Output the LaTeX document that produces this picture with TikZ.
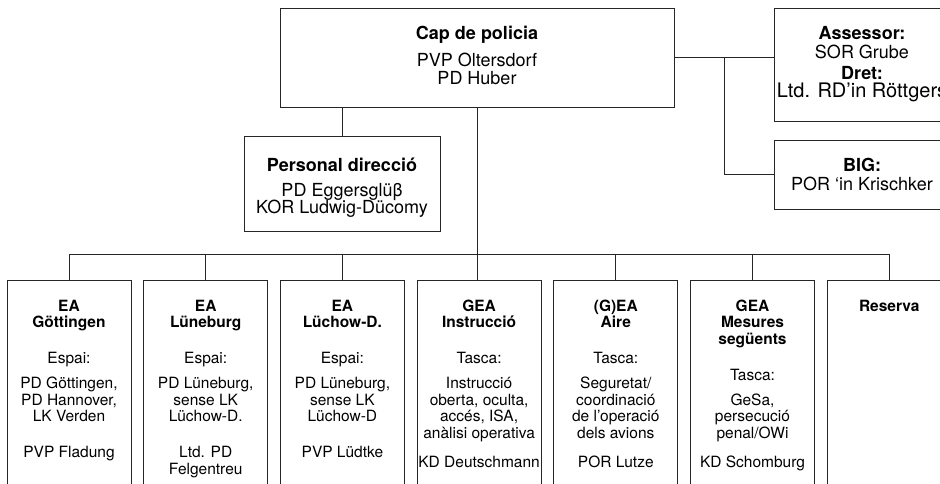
\documentclass[tikz,border=0pt]{standalone}
\usepackage{fontspec}
\setmainfont{TeX Gyre Heros}
\usetikzlibrary{calc,positioning}

\tikzset{
  orgbox/.style={draw=black!85, inner sep=0pt},
  uptxt/.style={font=\fontsize{18}{17.6}\selectfont, align=center},
  eabox/.style={orgbox, minimum width=124pt, minimum height=220pt},
  eatxt/.style={font=\fontsize{15.5}{16.5}\selectfont, align=center, inner sep=0pt},
  link/.style={draw=black!85},
}

\begin{document}
\lineskiplimit=-20pt
\begin{tikzpicture}[node distance=11.7pt, line width=1pt]
    \useasboundingbox (0,0) rectangle (940pt,-483pt);
    \clip (0,0) rectangle (940pt,-483pt);
    % Leitung
    \node[orgbox, uptxt, minimum width=394pt, minimum height=99pt] (Chef) at (477pt,-57.5pt)
        {\textbf{Cap de policia}\\[9.8pt] PVP Oltersdorf\\ PD Huber\rule[-4.5pt]{0pt}{0pt}};
    \node[orgbox, uptxt, minimum width=196pt, minimum height=95pt] (Personal) at (342pt,-183.5pt)
        {\rule{0pt}{22pt}\textbf{Personal direcció}\\[7.4pt] PD Eggersglüβ\\[-1pt] KOR Ludwig-Dücomy};
    \node[orgbox, uptxt, minimum width=176pt, minimum height=113pt] (Assessor) at (862pt,-64.5pt)
        {\textbf{Assessor:}\\[1.4pt] SOR Grube\\[3.1pt] \textbf{Dret:}\\[0.7pt] {\fontsize{20}{17.6}\selectfont Ltd. RD’in Röttgers}};
    \node[orgbox, uptxt, minimum width=176pt, minimum height=69pt, below=18pt of Assessor] (BIG)
        {\textbf{BIG:}\\[0.7pt] POR ‘in Krischker};
    %
    % Einsatzabschnitte
    \node[eabox, anchor=north] (goettingen) at (69pt,-280pt) {};
    \node[eabox, right=of goettingen] (lueneburg) {};
    \node[eabox, right=of lueneburg] (luechow) {};
    \node[eabox, right=of luechow] (instruccio) {};
    \node[eabox, right=of instruccio] (aire) {};
    \node[eabox, right=of aire] (mesures) {};
    \node[eabox, right=of mesures] (reserva) {};
    %
    \node[eatxt, below=19.5pt of goettingen.north] (goettingen txt)
        {\textbf{EA}\\ \textbf{Göttingen}\\[19.5pt] Espai:\\[8.5pt] PD Göttingen,\\ PD Hannover,\\ LK Verden\\[19.5pt] PVP Fladung};
    \node[eatxt, below=19.5pt of lueneburg.north] (lueneburg txt)
        {\textbf{EA}\\ \textbf{Lüneburg}\\[19.5pt] Espai:\\[8.5pt] PD Lüneburg,\\ sense LK\\ Lüchow-D.\\[19.5pt] Ltd. PD\\ Felgentreu};
    \node[eatxt, below=19.5pt of luechow.north] (luechow txt)
        {\textbf{EA}\\ \textbf{Lüchow-D.}\\[19.5pt] Espai:\\[8.5pt] PD Lüneburg,\\ sense LK\\ Lüchow-D\\[19.5pt] PVP Lüdtke};
    \node[eatxt, below=19.5pt of instruccio.north] (instruccio txt)
        {\textbf{GEA}\\ \textbf{Instrucció}\\[19.5pt] Tasca:\\[8.5pt] Instrucció\\ oberta, oculta,\\ accés, ISA,\\ anàlisi operativa\\[12.5pt] KD Deutschmann};
    \node[eatxt, below=19.5pt of aire.north] (aire txt)
        {\textbf{(G)EA}\\ \textbf{Aire}\\[19.5pt] Tasca:\\[8.5pt] Seguretat/\\ coordinació\\ de l’operació\\ dels avions\\[12.5pt] POR Lutze};
    \node[eatxt, below=19.5pt of mesures.north] (mesures txt)
        {\textbf{GEA}\\ \textbf{Mesures}\\ \textbf{següents}\\[19.5pt] Tasca:\\[8.5pt] GeSa,\\ persecució\\ penal/OWi\\[12.5pt] KD Schomburg};
    \node[eatxt, below=19.5pt of reserva.north] (reserva txt) {\textbf{Reserva}};
    %
    \coordinate (bus) at (0,-254pt);
    \coordinate (fork) at ($(Chef.east)!0.5!(Chef.east -| Assessor.west)$);
    \draw[link] (Chef.south) -- (Chef.south |- instruccio.north);
    \draw[link] (Chef.south -| Personal.north) -- (Personal.north);
    \draw[link] (Chef.east) -- (Chef.east -| Assessor.west);
    \draw[link] (fork) |- (BIG.west);
    \draw[link] (goettingen.north |- bus) -- (reserva.north |- bus);
    \foreach \ea in {goettingen,lueneburg,luechow,aire,mesures,reserva}
        \draw[link] (\ea.north) -- (\ea.north |- bus);
\end{tikzpicture}
\end{document}
